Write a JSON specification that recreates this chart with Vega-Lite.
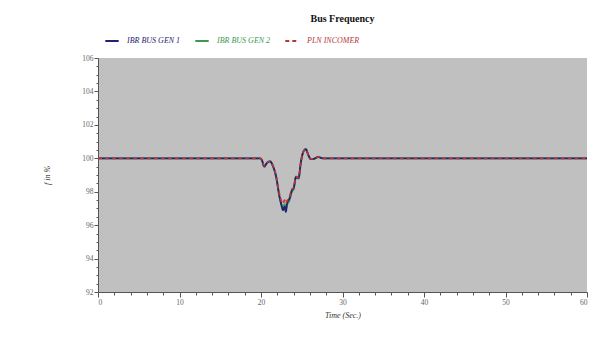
{
  "$schema": "https://vega.github.io/schema/vega-lite/v6.json",
  "autosize": "none",
  "width": 489,
  "height": 234,
  "padding": {"left": 98, "top": 58, "right": 27, "bottom": 48},
  "background": "white",
  "title": {
    "text": "Bus Frequency",
    "font": "Liberation Serif",
    "fontSize": 10,
    "fontWeight": "bold",
    "color": "#111111",
    "anchor": "middle",
    "offset": 9
  },
  "config": {
    "view": {"fill": "#c0c0c0", "stroke": null},
    "axis": {
      "labelFont": "Liberation Serif",
      "labelFontSize": 7.5,
      "labelColor": "#666666",
      "titleFont": "Liberation Serif",
      "titleFontSize": 8,
      "titleFontStyle": "italic",
      "titleFontWeight": "normal",
      "titleColor": "#333333",
      "domainColor": "#555555",
      "tickColor": "#555555",
      "grid": false
    }
  },
  "data": {
    "values": [
      {"t": 0, "f": 100, "s": "IBR BUS GEN 2"},
      {"t": 19.9, "f": 100, "s": "IBR BUS GEN 2"},
      {"t": 20.1, "f": 99.9, "s": "IBR BUS GEN 2"},
      {"t": 20.4, "f": 99.52, "s": "IBR BUS GEN 2"},
      {"t": 20.7, "f": 99.7, "s": "IBR BUS GEN 2"},
      {"t": 21.1, "f": 99.8, "s": "IBR BUS GEN 2"},
      {"t": 21.5, "f": 99.48, "s": "IBR BUS GEN 2"},
      {"t": 21.9, "f": 98.75, "s": "IBR BUS GEN 2"},
      {"t": 22.2, "f": 97.85, "s": "IBR BUS GEN 2"},
      {"t": 22.5, "f": 97.3, "s": "IBR BUS GEN 2"},
      {"t": 22.7, "f": 97.0, "s": "IBR BUS GEN 2"},
      {"t": 22.9, "f": 97.25, "s": "IBR BUS GEN 2"},
      {"t": 23.05, "f": 96.95, "s": "IBR BUS GEN 2"},
      {"t": 23.2, "f": 97.2, "s": "IBR BUS GEN 2"},
      {"t": 23.5, "f": 97.5, "s": "IBR BUS GEN 2"},
      {"t": 23.8, "f": 98.0, "s": "IBR BUS GEN 2"},
      {"t": 24.0, "f": 98.15, "s": "IBR BUS GEN 2"},
      {"t": 24.3, "f": 98.85, "s": "IBR BUS GEN 2"},
      {"t": 24.6, "f": 98.8, "s": "IBR BUS GEN 2"},
      {"t": 24.9, "f": 99.75, "s": "IBR BUS GEN 2"},
      {"t": 25.2, "f": 100.38, "s": "IBR BUS GEN 2"},
      {"t": 25.5, "f": 100.52, "s": "IBR BUS GEN 2"},
      {"t": 25.8, "f": 100.2, "s": "IBR BUS GEN 2"},
      {"t": 26.1, "f": 99.95, "s": "IBR BUS GEN 2"},
      {"t": 26.5, "f": 99.97, "s": "IBR BUS GEN 2"},
      {"t": 27.0, "f": 100.07, "s": "IBR BUS GEN 2"},
      {"t": 27.6, "f": 100, "s": "IBR BUS GEN 2"},
      {"t": 60, "f": 100, "s": "IBR BUS GEN 2"},

      {"t": 0, "f": 100, "s": "IBR BUS GEN 1"},
      {"t": 19.9, "f": 100, "s": "IBR BUS GEN 1"},
      {"t": 20.1, "f": 99.9, "s": "IBR BUS GEN 1"},
      {"t": 20.4, "f": 99.5, "s": "IBR BUS GEN 1"},
      {"t": 20.7, "f": 99.7, "s": "IBR BUS GEN 1"},
      {"t": 21.1, "f": 99.82, "s": "IBR BUS GEN 1"},
      {"t": 21.5, "f": 99.5, "s": "IBR BUS GEN 1"},
      {"t": 21.9, "f": 98.8, "s": "IBR BUS GEN 1"},
      {"t": 22.2, "f": 97.9, "s": "IBR BUS GEN 1"},
      {"t": 22.5, "f": 97.2, "s": "IBR BUS GEN 1"},
      {"t": 22.7, "f": 96.9, "s": "IBR BUS GEN 1"},
      {"t": 22.9, "f": 97.1, "s": "IBR BUS GEN 1"},
      {"t": 23.05, "f": 96.8, "s": "IBR BUS GEN 1"},
      {"t": 23.2, "f": 97.3, "s": "IBR BUS GEN 1"},
      {"t": 23.5, "f": 97.6, "s": "IBR BUS GEN 1"},
      {"t": 23.8, "f": 98.1, "s": "IBR BUS GEN 1"},
      {"t": 24.0, "f": 98.2, "s": "IBR BUS GEN 1"},
      {"t": 24.3, "f": 98.9, "s": "IBR BUS GEN 1"},
      {"t": 24.6, "f": 98.8, "s": "IBR BUS GEN 1"},
      {"t": 24.9, "f": 99.8, "s": "IBR BUS GEN 1"},
      {"t": 25.2, "f": 100.4, "s": "IBR BUS GEN 1"},
      {"t": 25.5, "f": 100.55, "s": "IBR BUS GEN 1"},
      {"t": 25.8, "f": 100.2, "s": "IBR BUS GEN 1"},
      {"t": 26.1, "f": 99.95, "s": "IBR BUS GEN 1"},
      {"t": 26.5, "f": 99.97, "s": "IBR BUS GEN 1"},
      {"t": 27.0, "f": 100.08, "s": "IBR BUS GEN 1"},
      {"t": 27.6, "f": 100, "s": "IBR BUS GEN 1"},
      {"t": 60, "f": 100, "s": "IBR BUS GEN 1"},

      {"t": 0, "f": 100, "s": "PLN INCOMER"},
      {"t": 19.9, "f": 100, "s": "PLN INCOMER"},
      {"t": 20.1, "f": 99.9, "s": "PLN INCOMER"},
      {"t": 20.4, "f": 99.55, "s": "PLN INCOMER"},
      {"t": 20.7, "f": 99.72, "s": "PLN INCOMER"},
      {"t": 21.1, "f": 99.82, "s": "PLN INCOMER"},
      {"t": 21.5, "f": 99.52, "s": "PLN INCOMER"},
      {"t": 21.9, "f": 98.85, "s": "PLN INCOMER"},
      {"t": 22.2, "f": 98.0, "s": "PLN INCOMER"},
      {"t": 22.5, "f": 97.45, "s": "PLN INCOMER"},
      {"t": 22.7, "f": 97.3, "s": "PLN INCOMER"},
      {"t": 22.9, "f": 97.5, "s": "PLN INCOMER"},
      {"t": 23.05, "f": 97.3, "s": "PLN INCOMER"},
      {"t": 23.2, "f": 97.45, "s": "PLN INCOMER"},
      {"t": 23.5, "f": 97.7, "s": "PLN INCOMER"},
      {"t": 23.8, "f": 98.15, "s": "PLN INCOMER"},
      {"t": 24.0, "f": 98.25, "s": "PLN INCOMER"},
      {"t": 24.3, "f": 98.9, "s": "PLN INCOMER"},
      {"t": 24.6, "f": 98.85, "s": "PLN INCOMER"},
      {"t": 24.9, "f": 99.8, "s": "PLN INCOMER"},
      {"t": 25.2, "f": 100.4, "s": "PLN INCOMER"},
      {"t": 25.5, "f": 100.52, "s": "PLN INCOMER"},
      {"t": 25.8, "f": 100.2, "s": "PLN INCOMER"},
      {"t": 26.1, "f": 99.96, "s": "PLN INCOMER"},
      {"t": 26.5, "f": 99.97, "s": "PLN INCOMER"},
      {"t": 27.0, "f": 100.07, "s": "PLN INCOMER"},
      {"t": 27.6, "f": 100, "s": "PLN INCOMER"},
      {"t": 60, "f": 100, "s": "PLN INCOMER"}
    ]
  },
  "mark": {"type": "line", "strokeWidth": 1.8, "interpolate": "monotone"},
  "encoding": {
    "x": {
      "field": "t",
      "type": "quantitative",
      "scale": {"domain": [0, 60], "nice": false},
      "axis": {
        "title": "Time (Sec.)",
        "titlePadding": 6,
        "values": [0,2,4,6,8,10,12,14,16,18,20,22,24,26,28,30,32,34,36,38,40,42,44,46,48,50,52,54,56,58,60],
        "labelExpr": "datum.value % 10 === 0 ? format(datum.value, 'd') : ''",
        "tickSize": {"condition": {"test": "datum.value % 10 === 0", "value": 5}, "value": 3},
        "labelPadding": 1
      }
    },
    "y": {
      "field": "f",
      "type": "quantitative",
      "scale": {"domain": [92, 106], "nice": false, "zero": false},
      "axis": {
        "title": "f in %",
        "titlePadding": 30,
        "values": [92,92.5,93,93.5,94,94.5,95,95.5,96,96.5,97,97.5,98,98.5,99,99.5,100,100.5,101,101.5,102,102.5,103,103.5,104,104.5,105,105.5,106],
        "labelExpr": "datum.value % 2 === 0 ? format(datum.value, 'd') : ''",
        "tickSize": {"condition": {"test": "datum.value % 2 === 0", "value": 4}, "value": 2},
        "labelPadding": 1
      }
    },
    "color": {
      "field": "s",
      "type": "nominal",
      "scale": {
        "domain": ["IBR BUS GEN 1", "IBR BUS GEN 2", "PLN INCOMER"],
        "range": ["#1f2370", "#3a9a50", "#b8383a"]
      },
      "legend": {
        "orient": "none",
        "legendX": 6,
        "legendY": -25,
        "direction": "horizontal",
        "title": null,
        "symbolType": "stroke",
        "symbolSize": 180,
        "symbolStrokeWidth": 2,
        "labelFont": "Liberation Serif",
        "labelFontSize": 8,
        "labelFontStyle": "italic",
        "columns": 3,
        "gridAlign": "all",
        "columnPadding": 10,
        "labelOffset": 7,
        "encode": {
          "labels": {"update": {"fill": {"scale": "color", "field": "value"}}}
        }
      }
    },
    "strokeDash": {
      "field": "s",
      "type": "nominal",
      "scale": {
        "domain": ["IBR BUS GEN 1", "IBR BUS GEN 2", "PLN INCOMER"],
        "range": [[1, 0], [1, 0], [4, 3]]
      },
      "legend": null
    }
  }
}
